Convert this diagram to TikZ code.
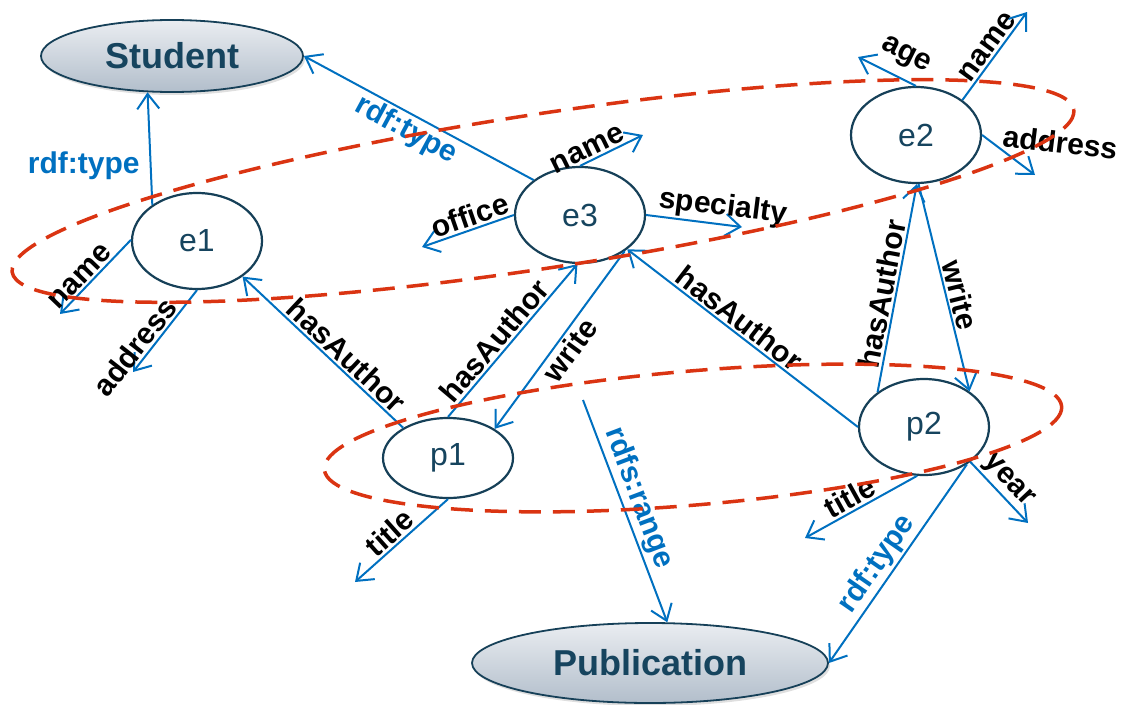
\documentclass[tikz,border=0pt]{standalone}
\usepackage{fontspec}
\setmainfont{Liberation Sans}
\usetikzlibrary{positioning,shapes.geometric,arrows.meta,shadows}

\definecolor{linkblue}{RGB}{0,112,192}
\definecolor{nodeborder}{RGB}{22,64,88}
\definecolor{nodetext}{RGB}{22,68,94}
\definecolor{groupred}{RGB}{218,52,18}
\definecolor{classtop}{RGB}{234,237,241}
\definecolor{classbot}{RGB}{178,190,203}

\begin{document}
\begin{tikzpicture}[x=1pt, y=-1pt,
	inst/.style={ellipse, draw=nodeborder, line width=2.2pt, fill=white, minimum width=130pt, minimum height=96pt, inner sep=0pt, text=nodetext, font=\fontsize{32}{34}\selectfont},
	cls/.style={ellipse, draw=nodeborder, line width=1.8pt, top color=classtop, bottom color=classbot, drop shadow={opacity=0.25, shadow xshift=2pt, shadow yshift=-3pt}, inner sep=0pt, text=nodetext, font=\bfseries\fontsize{36}{38}\selectfont},
	rel/.style={draw=linkblue, line width=2pt, -{Straight Barb[length=15pt,width=22pt]}},
	lbl/.style={inner sep=2pt, font=\bfseries\fontsize{30}{32}\selectfont},
	typ/.style={lbl, text=linkblue},
	group/.style={draw=groupred, line width=3.5pt, dash pattern=on 22pt off 12pt}]
	\useasboundingbox (0,0) rectangle (1124,704);

	% classes and instances
	\node[cls, minimum width=262pt, minimum height=72pt](student) at (172,56) {Student};
	\node[cls, minimum width=356pt, minimum height=80pt](publication) at (650,663) {Publication};
	\node[inst](e1) at (197,241) {e1};
	\node[inst](e3) at (580,215) {e3};
	\node[inst](e2) at (916,135) {e2};
	\node[inst, minimum height=80pt](p1) at (448,458) {p1};
	\node[inst](p2) at (924,427) {p2};

	% loose ends of the attribute arrows
	\coordinate (e1name) at (60,314);
	\coordinate (e1addr) at (133,372);
	\coordinate (e3office) at (422,247);
	\coordinate (e3name) at (643,135);
	\coordinate (e3spec) at (742,227);
	\coordinate (e2age) at (858,57);
	\coordinate (e2name) at (1027,12);
	\coordinate (e2addr) at (1035,175);
	\coordinate (p1title) at (355,582);
	\coordinate (p2title) at (805,538);
	\coordinate (p2year) at (1028,523);
	\coordinate (range) at (583,400);

	\draw[rel] (e1.141) -- node[typ, left=8pt, pos=0.35] {rdf:type} (student.-124);
	\draw[rel] (e3.143) -- node[typ, sloped, below, pos=0.52] {rdf:type} (student.east);
	\draw[rel] (e1.179) -- node[lbl, sloped, above, pos=0.6] {name} (e1name);
	\draw[rel] (e1.south) -- node[lbl, sloped, above, pos=0.8] {address} (e1addr);
	\draw[rel] (p1.146) -- node[lbl, sloped, above, pos=0.41] {hasAuthor} (e1.-38);
	\draw[rel] (p1.north) -- node[lbl, sloped, above, pos=0.44] {hasAuthor} (e3.-93);
	\draw[rel] (e3.-39) -- node[lbl, sloped, below, pos=0.51] {write} (p1.32);
	\draw[rel] (range) -- node[typ, sloped, above, pos=0.47] {rdfs:range} (publication.67);
	\draw[rel] (e3.west) -- node[lbl, sloped, above, pos=0.43] {office} (e3office);
	\draw[rel] (e3.north) -- node[lbl, sloped, above, pos=0.2] {name} (e3name);
	\draw[rel] (e3.east) -- node[lbl, sloped, above, pos=0.78] {specialty} (e3spec);
	\draw[rel] (p2.west) -- node[lbl, sloped, above, pos=0.55] {hasAuthor} (e3.-36);
	\draw[rel] (e2.north) -- node[lbl, sloped, above=8pt, pos=0.35] {age} (e2age);
	\draw[rel] (e2.37) -- node[lbl, sloped, above, pos=0.53] {name} (e2name);
	\draw[rel] (e2.east) node[lbl, anchor=west, xshift=18pt, rotate=-7] {address} -- (e2addr);
	\draw[rel] (p2.143) -- node[lbl, sloped, above, pos=0.46] {hasAuthor} (e2.-89);
	\draw[rel] (e2.-87) -- node[lbl, sloped, above, pos=0.55] {write} (p2.38);
	\draw[rel] (p1.south) -- node[lbl, sloped, above, pos=0.53] {title} (p1title);
	\draw[rel] (p2.-98) -- node[lbl, sloped, above, pos=0.54] {title} (p2title);
	\draw[rel] (p2.-37) -- node[lbl, sloped, above, pos=0.47] {year} (p2year);
	\draw[rel] (p2.-41) -- node[typ, sloped, above, pos=0.55] {rdf:type} (publication.east);

	% groups
	\draw[group, rotate around={8.7:(543,191)}] (543,191) ellipse [x radius=537, y radius=77];
	\draw[group, rotate around={4.9:(693,438)}] (693,438) ellipse [x radius=370, y radius=67];
\end{tikzpicture}
\end{document}
